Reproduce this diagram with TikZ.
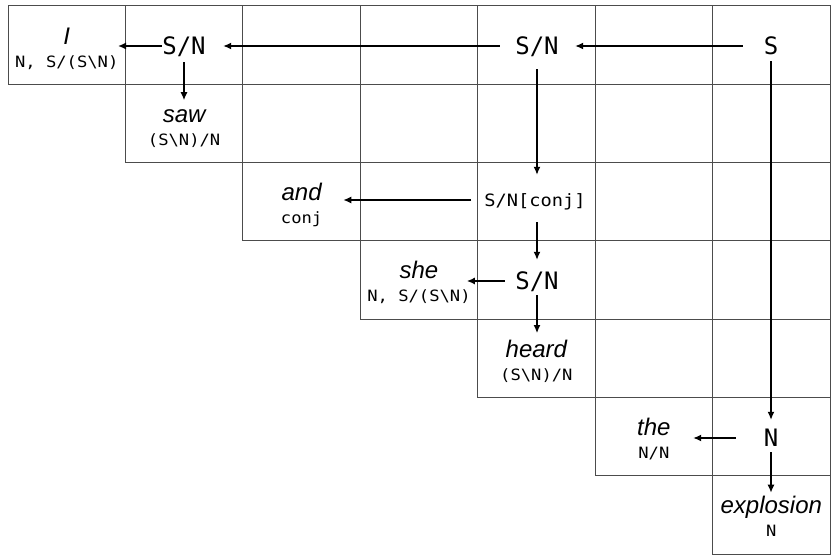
\documentclass[tikz,border=0pt]{standalone}
\usepackage{fontspec}
\setmainfont{Liberation Sans}
\newfontfamily\bigmono{DejaVu Sans Mono}
\newfontfamily\smallmono[FakeStretch=1.1]{DejaVu Sans Mono}
\usetikzlibrary{arrows.meta,calc}
\tikzset{
  gridline/.style={draw=black!70,line width=1pt},
  bigcat/.style={font=\bigmono\fontsize{24}{28}\selectfont,inner sep=0pt,text height=17.5pt,text depth=0pt},
  midcat/.style={font=\smallmono\fontsize{17}{20}\selectfont,inner sep=0pt,text height=12.4pt,text depth=0pt},
  word/.style={font=\fontsize{24}{28}\selectfont\itshape,inner sep=0pt,anchor=base,text height=17.3pt,text depth=5pt},
  cat/.style={font=\smallmono\fontsize{15.6}{18}\selectfont,inner sep=0pt,anchor=base},
  arr/.style={line width=1.4pt,-{Latex[length=8pt,width=7pt]}},
}
\begin{document}
\begin{tikzpicture}[x=1pt,y=-1pt]
\useasboundingbox (0,0) rectangle (831,556);
% grid
\foreach \i in {0,...,6}{
  \foreach \j in {\i,...,6}{
    \draw[gridline] ({8+\j*117.43},{6+\i*78.29}) rectangle ++(117.43,78.29);
  }
}
% words and categories on the diagonal
\node[word] (w0) at (66.7,44.1) {I};
\node[cat]  (c0) at (66.7,67.1) {N, S/(S\textbackslash N)};
\node[word] (w1) at (184.1,122.4) {saw};
\node[cat]  (c1) at (184.1,145.4) {(S\textbackslash N)/N};
\node[word] (w2) at (301.6,200.7) {and};
\node[cat]  (c2) at (301.6,223.7) {conj};
\node[word] (w3) at (419.0,279.0) {she};
\node[cat]  (c3) at (419.0,302.0) {N, S/(S\textbackslash N)};
\node[word] (w4) at (536.4,357.3) {heard};
\node[cat]  (c4) at (536.4,380.3) {(S\textbackslash N)/N};
\node[word] (w5) at (653.9,435.6) {the};
\node[cat]  (c5) at (653.9,458.6) {N/N};
\node[word] (w6) at (771.3,513.9) {explosion};
\node[cat]  (c6) at (771.3,536.9) {N};
% derived categories
\node[bigcat] (S)   at (771,46) {S};
\node[bigcat] (SN4) at (537,46) {S/N};
\node[bigcat] (SN1) at (184,46) {S/N};
\node[midcat] (SNc) at (535,200) {S/N[conj]};
\node[bigcat] (SN3) at (537,281) {S/N};
\node[bigcat] (N)   at (771,438) {N};
% connectors
\draw[arr,shorten <=20.8pt,shorten >=16.3pt] (S.west) -- (S.west -| SN4.east);
\draw[arr,shorten <=15.3pt,shorten >=17.3pt] (SN4.west) -- (SN4.west -| SN1.east);
\draw[arr,shorten <=0.3pt,shorten >=-0.5pt] (SN1.west) -- (SN1.west -| c0.east);
\draw[arr,shorten <=7.2pt,shorten >=4.7pt] (SN1.south) -- (SN1.south |- w1.north);
\draw[arr,shorten <=14.2pt,shorten >=18.8pt] (SN4.south) -- (SN4.south |- SNc.north);
\draw[arr,shorten <=12.9pt,shorten >=20.8pt] (SNc.west) -- (SNc.west -| c2.east);
\draw[arr,shorten <=15.8pt,shorten >=12.2pt] (SN4.south |- SNc.south) -- (SN4.south |- SN3.north);
\draw[arr,shorten <=10.3pt,shorten >=-4pt] (SN3.west) -- (SN3.west -| c3.east);
\draw[arr,shorten <=5.2pt,shorten >=6.7pt] (SN3.south) -- (SN3.south |- w4.north);
\draw[arr,shorten <=6.2pt,shorten >=9.2pt] (S.south) -- (S.south |- N.north);
\draw[arr,shorten <=27.8pt,shorten >=23.6pt] (N.west) -- (N.west -| c5.east);
\draw[arr,shorten <=5.2pt,shorten >=3.7pt] (N.south) -- (N.south |- w6.north);
\end{tikzpicture}
\end{document}
